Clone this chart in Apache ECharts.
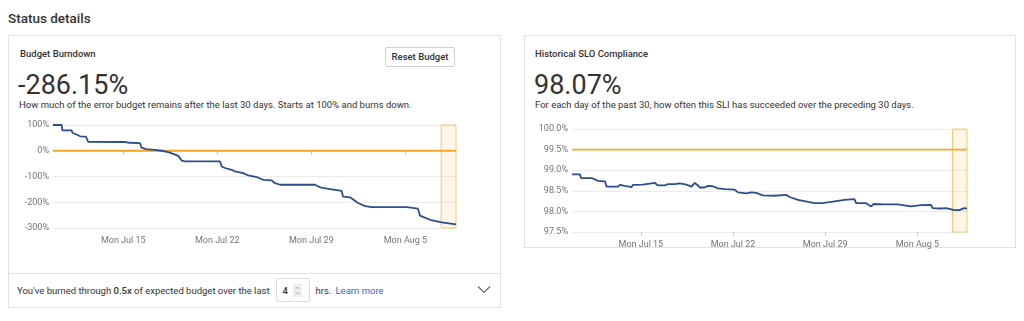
<!DOCTYPE html>
<html>
<head>
<meta charset="utf-8">
<script src="https://cdn.jsdelivr.net/npm/echarts@6/dist/echarts.min.js"></script>
<style>
  html, body { margin: 0; padding: 0; background: #fff; }
  body { width: 1024px; height: 321px; position: relative; overflow: hidden; font-family: Roboto, "Noto Sans", sans-serif; color: #333; }
  .abs { position: absolute; white-space: nowrap; }
  .card { position: absolute; border: 1px solid #e2e2e2; box-sizing: border-box; background: #fff; }
  .title { font-size: 9.5px; font-weight: 500; line-height: 11px; color: #333; }
  .big { font-size: 27px; font-weight: 400; line-height: 27px; color: #333; }
  .desc { font-size: 9.5px; line-height: 10px; color: #333; }
  .chart { position: absolute; }
  .btn { position: absolute; left: 385px; top: 47px; width: 70px; height: 20px; box-sizing: border-box; border: 1px solid #d0d0d0; border-radius: 2px; font-size: 9.5px; font-weight: 500; line-height: 18px; text-align: center; color: #333; background: #fff; }
  .foot { position: absolute; left: 17px; top: 278px; height: 24px; display: flex; align-items: center; font-size: 9.5px; color: #333; white-space: nowrap; }
  .num { width: 34px; height: 24px; box-sizing: border-box; border: 1px solid #dcdcdc; border-radius: 2px; margin: 0 6px 0 6px; display: flex; align-items: center; padding-left: 6px; font-weight: 500; }
  .spin { width: 9px; height: 13px; background: #eee; margin-left: 5px; border-radius: 1px; display: flex; align-items: center; justify-content: center; }
  .link { color: #3367d6; margin-left: 4px; }
</style>
</head>
<body>
<div class="abs" style="left:8px; top:11px; font-size:13.5px; font-weight:500; line-height:15px; color:#333;">Status details</div>

<div class="card" style="left:8px; top:35px; width:493px; height:239px;"></div>
<div class="card" style="left:8px; top:273px; width:493px; height:35px;"></div>
<div class="card" style="left:524px; top:35px; width:492px; height:213px;"></div>

<div class="abs title" style="left:20px; top:48px;">Budget Burndown</div>
<div class="btn">Reset Budget</div>
<div class="abs big" style="left:18px; top:72px;">-286.15%</div>
<div class="abs desc" style="left:19px; top:100px;">How much of the error budget remains after the last 30 days. Starts at 100% and burns down.</div>

<div class="abs title" style="left:535px; top:48px;">Historical SLO Compliance</div>
<div class="abs big" style="left:534px; top:72px;">98.07%</div>
<div class="abs desc" style="left:535px; top:100px;">For each day of the past 30, how often this SLI has succeeded over the preceding 30 days.</div>

<div class="foot">
  <span>You've burned through <b style="font-weight:500">0.5x</b> of expected budget over the last</span>
  <span class="num">4<span class="spin"><svg width="7" height="11" viewBox="0 0 7 11"><polyline points="1.5,4 3.5,2 5.5,4" fill="none" stroke="#999" stroke-width="0.8"/><polyline points="1.5,7 3.5,9 5.5,7" fill="none" stroke="#999" stroke-width="0.8"/></svg></span></span>
  <span>hrs.</span><span class="link">Learn more</span>
</div>
<svg class="abs" style="left:477px; top:285px;" width="14" height="9" viewBox="0 0 14 9"><polyline points="1,1.5 7,7.5 13,1.5" fill="none" stroke="#666" stroke-width="1.1"/></svg>

<div id="c1" class="chart" style="left:8px; top:112px; width:492px; height:140px;"></div>
<div id="c2" class="chart" style="left:524px; top:112px; width:491px; height:140px;"></div>

<script>
// ---- Budget burndown (percent of error budget remaining) ----
const burnTimes = [
  '2024-07-09 18:30','2024-07-10 09:50','2024-07-10 11:20','2024-07-11 03:50','2024-07-11 05:15',
  '2024-07-11 12:45','2024-07-11 18:40','2024-07-12 05:20','2024-07-12 09:20','2024-07-15 03:00',
  '2024-07-15 12:00','2024-07-16 05:50','2024-07-16 08:35','2024-07-16 16:35','2024-07-17 08:40',
  '2024-07-17 20:35','2024-07-18 08:25','2024-07-18 17:20','2024-07-19 02:20','2024-07-19 08:25',
  '2024-07-19 14:10','2024-07-22 04:45','2024-07-22 07:55','2024-07-22 13:40','2024-07-23 01:40',
  '2024-07-23 07:40','2024-07-23 22:30','2024-07-24 07:25','2024-07-24 22:20','2024-07-25 10:05',
  '2024-07-26 01:10','2024-07-26 07:10','2024-07-26 16:05','2024-07-29 06:30','2024-07-29 15:30',
  '2024-07-30 09:20','2024-07-31 06:15','2024-07-31 08:40','2024-07-31 21:10','2024-08-01 11:30',
  '2024-08-02 00:00','2024-08-02 12:30','2024-08-05 02:55','2024-08-05 22:30','2024-08-06 02:10',
  '2024-08-06 20:10','2024-08-07 17:00','2024-08-08 18:30'
];
const burnValues = [
  100, 100, 79, 79, 70,
  63, 56, 55, 35, 34,
  31, 30, 12, 6, 3,
  0, -5, -12, -20, -38,
  -41, -41, -61, -67, -74,
  -80, -87, -96, -102, -113,
  -115, -126, -132, -132, -142,
  -149, -156, -178, -181, -203,
  -215, -219, -219, -225, -252,
  -268, -278, -286.15
];
const burnTarget = 0;
const burnYMin = -300, burnYMax = 100, burnYStep = 100;

// ---- Historical SLO compliance (percent) ----
const sloTimes = [
  '2024-07-09 18:30','2024-07-10 09:00','2024-07-10 10:50','2024-07-11 06:45','2024-07-11 08:40',
  '2024-07-11 17:45','2024-07-12 06:30','2024-07-12 09:40','2024-07-13 06:10','2024-07-13 09:50',
  '2024-07-13 19:00','2024-07-14 07:05','2024-07-14 09:25','2024-07-15 03:40','2024-07-15 07:15',
  '2024-07-16 01:30','2024-07-16 04:35','2024-07-16 07:30','2024-07-16 19:40','2024-07-17 01:10',
  '2024-07-17 13:50','2024-07-17 23:00','2024-07-18 11:05','2024-07-18 20:15','2024-07-19 02:15',
  '2024-07-19 08:15','2024-07-19 11:20','2024-07-19 20:25','2024-07-20 02:25','2024-07-20 11:00',
  '2024-07-20 20:40','2024-07-21 08:50','2024-07-22 03:00','2024-07-22 09:00','2024-07-23 00:20',
  '2024-07-23 09:25','2024-07-23 18:30','2024-07-24 06:30','2024-07-25 03:50','2024-07-26 01:10',
  '2024-07-26 07:10','2024-07-26 22:20','2024-07-28 04:35','2024-07-28 19:10','2024-07-29 11:00',
  '2024-07-30 11:15','2024-07-31 05:20','2024-07-31 08:25','2024-08-01 02:40','2024-08-01 11:45',
  '2024-08-01 16:30','2024-08-02 12:00','2024-08-03 12:15','2024-08-04 12:30','2024-08-05 06:45',
  '2024-08-06 01:00','2024-08-06 03:50','2024-08-06 19:10','2024-08-07 04:20','2024-08-07 19:25',
  '2024-08-08 04:30','2024-08-08 13:30','2024-08-08 18:30'
];
const sloValues = [
  98.90, 98.90, 98.81, 98.81, 98.77,
  98.74, 98.73, 98.60, 98.60, 98.645,
  98.62, 98.59, 98.645, 98.65, 98.68,
  98.69, 98.70, 98.63, 98.63, 98.66,
  98.66, 98.68, 98.65, 98.60, 98.69,
  98.63, 98.58, 98.58, 98.62, 98.61,
  98.56, 98.54, 98.53, 98.46, 98.44,
  98.46, 98.45, 98.39, 98.38, 98.40,
  98.35, 98.28, 98.20, 98.20, 98.23,
  98.28, 98.30, 98.20, 98.20, 98.12,
  98.18, 98.17, 98.17, 98.12, 98.15,
  98.16, 98.08, 98.07, 98.08, 98.03,
  98.03, 98.08, 98.07
];
const sloTarget = 99.5;
const sloYMin = 97.5, sloYMax = 100, sloYStep = 0.5;

// ---- shared x-axis ticks and highlighted window ----
const xTickDates = ['2024-07-15 00:00', '2024-07-22 00:00', '2024-07-29 00:00', '2024-08-05 00:00'];
const xTickLabels = ['Mon Jul 15', 'Mon Jul 22', 'Mon Jul 29', 'Mon Aug 5'];
const highlightStart = '2024-08-07 16:00';

const FONT = 'Roboto, "Noto Sans", sans-serif';
const LABEL_COLOR = '#757575';

function toTs(s) {
  const m = s.match(/(\d+)-(\d+)-(\d+) (\d+):(\d+)/);
  return Date.UTC(+m[1], +m[2] - 1, +m[3], +m[4], +m[5]);
}

function buildOption(times, values, target, yMin, yMax, yStep, yFmt, grid) {
  const ts = times.map(toTs);
  const start = ts[0], end = ts[ts.length - 1];
  const tickTs = xTickDates.map(toTs);
  return {
    animation: false,
    grid: grid,
    xAxis: {
      type: 'value', min: start, max: end,
      axisLine: { show: false },
      axisTick: { show: true, customValues: tickTs, length: 4, lineStyle: { color: '#c8c8c8' } },
      splitLine: { show: false },
      axisLabel: {
        customValues: tickTs,
        color: LABEL_COLOR, fontSize: 9, fontFamily: FONT, margin: 8,
        formatter: function (v) {
          let best = 0, bd = Infinity;
          tickTs.forEach((t, i) => { const d = Math.abs(t - v); if (d < bd) { bd = d; best = i; } });
          return xTickLabels[best];
        }
      }
    },
    yAxis: {
      type: 'value', min: yMin, max: yMax, interval: yStep,
      axisLine: { show: false }, axisTick: { show: false },
      splitLine: { lineStyle: { color: '#ebebeb', width: 1 } },
      axisLabel: { color: LABEL_COLOR, fontSize: 9, fontFamily: FONT, margin: 4, formatter: yFmt }
    },
    series: [
      {
        type: 'line', silent: true, symbol: 'none', z: 1,
        data: [[start, target], [end, target]],
        lineStyle: { color: '#f7a825', width: 1.8 }
      },
      {
        type: 'line', silent: true, symbol: 'none', z: 3,
        data: ts.map((t, i) => [t, values[i]]),
        lineStyle: { color: '#2c4d8e', width: 1.8 },
        markArea: {
          silent: true,
          itemStyle: { color: 'rgba(250, 200, 110, 0.16)', borderColor: '#f8c76c', borderWidth: 1 },
          data: [[{ xAxis: toTs(highlightStart), yAxis: yMax }, { xAxis: end, yAxis: yMin }]]
        }
      }
    ]
  };
}

const c1 = echarts.init(document.getElementById('c1'), null, { renderer: 'canvas' });
c1.setOption(buildOption(burnTimes, burnValues, burnTarget, burnYMin, burnYMax, burnYStep,
  v => v + '%', { left: 45, right: 44, top: 13, bottom: 24 }));

const c2 = echarts.init(document.getElementById('c2'), null, { renderer: 'canvas' });
c2.setOption(buildOption(sloTimes, sloValues, sloTarget, sloYMin, sloYMax, sloYStep,
  v => v.toFixed(1) + '%', { left: 48, right: 48, top: 17, bottom: 20 }));
</script>
</body>
</html>
